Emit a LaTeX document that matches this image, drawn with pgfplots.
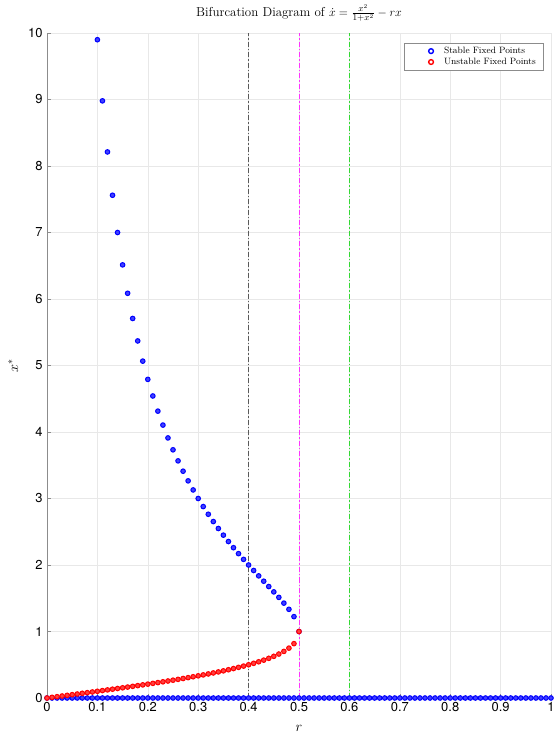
\documentclass[border=0pt]{standalone}
\usepackage{pgfplots}
\pgfplotsset{compat=1.18}
\usepackage{fontspec}
\newfontfamily\helv{TeX Gyre Heros}
\definecolor{mblue}{rgb}{0,0,1}
\definecolor{mred}{rgb}{1,0,0}
\definecolor{vgray}{rgb}{0.35,0.35,0.35}
\definecolor{vmag}{rgb}{1,0.2,1}
\definecolor{vgreen}{rgb}{0.2,0.85,0.2}
\begin{document}
\begin{tikzpicture}
\path[use as bounding box] (-47bp,-38bp) rectangle (507bp,698bp);
\begin{axis}[
  at={(0,0)}, anchor=south west,
  scale only axis,
  width=504bp, height=665bp,
  xmin=0, xmax=1, ymin=0, ymax=10,
  xtick={0,0.1,...,1.0},
  xticklabels={0,0.1,0.2,0.3,0.4,0.5,0.6,0.7,0.8,0.9,1},
  ytick={0,1,...,10},
  /pgf/number format/assume math mode=true,
  tick label style={font=\helv\fontsize{13}{15}\selectfont},
  xticklabel style={yshift=-1bp},
  yticklabel style={xshift=-1bp},
  axis lines=left,
  axis line style={-, draw=black!45, line width=0.5pt},
  tick style={draw=black!45, line width=0.5pt},
  major tick length=4bp,
  tick align=inside,
  grid=major,
  major grid style={draw=black!9, line width=0.4pt},
  title={Bifurcation Diagram of $\dot{x}=\frac{x^2}{1+x^2}-rx$},
  title style={font=\fontsize{13}{15}\selectfont, at={(axis description cs:0.5,1)}, anchor=south, yshift=2bp},
  xlabel={$r$}, ylabel={$x^*$},
  label style={font=\fontsize{14}{16}\selectfont},
  xlabel style={at={(axis description cs:0.5,-0.046)}, anchor=center},
  ylabel style={at={(axis description cs:-0.067,0.5)}, anchor=center},
  clip=false,
  legend style={at={(0.984,0.985)}, anchor=north east, draw=black!45, line width=0.4pt,
    font=\fontsize{9.2}{11}\selectfont, inner xsep=5bp, inner ysep=2bp, row sep=-1bp,
    cells={anchor=west}},
]
% stable x = 0
\addplot[only marks, mark=*, mark size=2.3bp, mark options={draw=mblue, fill=mblue!75, line width=1bp},
  legend image code/.code={\path[draw=none, fill=none] (-22bp,0bp) -- (11bp,0bp); \draw[mblue, fill=none, line width=1.4pt] (0bp,0bp) circle (2.4pt);}]
coordinates {
(0,0) (0.01,0) (0.02,0) (0.03,0) (0.04,0) (0.05,0) (0.06,0) (0.07,0) (0.08,0) (0.09,0)
(0.1,0) (0.11,0) (0.12,0) (0.13,0) (0.14,0) (0.15,0) (0.16,0) (0.17,0) (0.18,0) (0.19,0)
(0.2,0) (0.21,0) (0.22,0) (0.23,0) (0.24,0) (0.25,0) (0.26,0) (0.27,0) (0.28,0) (0.29,0)
(0.3,0) (0.31,0) (0.32,0) (0.33,0) (0.34,0) (0.35,0) (0.36,0) (0.37,0) (0.38,0) (0.39,0)
(0.4,0) (0.41,0) (0.42,0) (0.43,0) (0.44,0) (0.45,0) (0.46,0) (0.47,0) (0.48,0) (0.49,0)
(0.5,0) (0.51,0) (0.52,0) (0.53,0) (0.54,0) (0.55,0) (0.56,0) (0.57,0) (0.58,0) (0.59,0)
(0.6,0) (0.61,0) (0.62,0) (0.63,0) (0.64,0) (0.65,0) (0.66,0) (0.67,0) (0.68,0) (0.69,0)
(0.7,0) (0.71,0) (0.72,0) (0.73,0) (0.74,0) (0.75,0) (0.76,0) (0.77,0) (0.78,0) (0.79,0)
(0.8,0) (0.81,0) (0.82,0) (0.83,0) (0.84,0) (0.85,0) (0.86,0) (0.87,0) (0.88,0) (0.89,0)
(0.9,0) (0.91,0) (0.92,0) (0.93,0) (0.94,0) (0.95,0) (0.96,0) (0.97,0) (0.98,0) (0.99,0)
(1,0)
};
\addlegendentry{Stable Fixed Points}
% stable upper branch
\addplot[only marks, mark=*, mark size=2.3bp, mark options={draw=mblue, fill=mblue!75, line width=1bp}, forget plot]
coordinates {
(0.10,9.89898) (0.11,8.97955) (0.12,8.21155) (0.13,7.56003) (0.14,7.0)
(0.15,6.51313) (0.16,6.08568) (0.17,5.70713) (0.18,5.36931) (0.19,5.06575)
(0.20,4.79129) (0.21,4.54172) (0.22,4.31363) (0.23,4.10417) (0.24,3.91098)
(0.25,3.73205) (0.26,3.56570) (0.27,3.41049) (0.28,3.26517) (0.29,3.12865)
(0.30,3.0) (0.31,2.87839) (0.32,2.76309) (0.33,2.65343) (0.34,2.54884)
(0.35,2.44878) (0.36,2.35274) (0.37,2.26028) (0.38,2.17095) (0.39,2.08433)
(0.40,2.0) (0.41,1.91752) (0.42,1.83641) (0.43,1.75616) (0.44,1.67611)
(0.45,1.59543) (0.46,1.51295) (0.47,1.42678) (0.48,1.33333) (0.49,1.22347)
(0.50,1.0)
};
% unstable branch
\addplot[only marks, mark=*, mark size=2.3bp, mark options={draw=mred, fill=mred!75, line width=1bp},
  legend image code/.code={\path[draw=none, fill=none] (-22bp,0bp) -- (11bp,0bp); \draw[mred, fill=none, line width=1.4pt] (0bp,0bp) circle (2.4pt);}]
coordinates {
(0,0) (0.01,0.010001) (0.02,0.020008) (0.03,0.030027) (0.04,0.040064)
(0.05,0.050126) (0.06,0.060218) (0.07,0.070346) (0.08,0.080519) (0.09,0.090741)
(0.10,0.10102) (0.11,0.11136) (0.12,0.12178) (0.13,0.13227) (0.14,0.142857)
(0.15,0.15354) (0.16,0.16432) (0.17,0.17522) (0.18,0.18624) (0.19,0.19740)
(0.20,0.20871) (0.21,0.22018) (0.22,0.23182) (0.23,0.24365) (0.24,0.25569)
(0.25,0.26795) (0.26,0.28045) (0.27,0.29321) (0.28,0.30626) (0.29,0.31963)
(0.30,0.33333) (0.31,0.34742) (0.32,0.36191) (0.33,0.37687) (0.34,0.39233)
(0.35,0.40837) (0.36,0.42504) (0.37,0.44242) (0.38,0.46063) (0.39,0.47977)
(0.40,0.5) (0.41,0.52151) (0.42,0.54454) (0.43,0.56943) (0.44,0.59662)
(0.45,0.62679) (0.46,0.66096) (0.47,0.70088) (0.48,0.75) (0.49,0.81735)
(0.50,1.0)
};
\addlegendentry{Unstable Fixed Points}
% reference lines
\addplot[forget plot, vgray, line width=1pt, dash pattern=on 5bp off 2bp on 1.5bp off 2bp] coordinates {(0.4,0) (0.4,10)};
\addplot[forget plot, vmag, line width=1pt, dash pattern=on 5bp off 2bp on 1.5bp off 2bp] coordinates {(0.5,0) (0.5,10)};
\addplot[forget plot, vgreen, line width=1pt, dash pattern=on 5bp off 2bp on 1.5bp off 2bp] coordinates {(0.6,0) (0.6,10)};
\end{axis}
\end{tikzpicture}
\end{document}
